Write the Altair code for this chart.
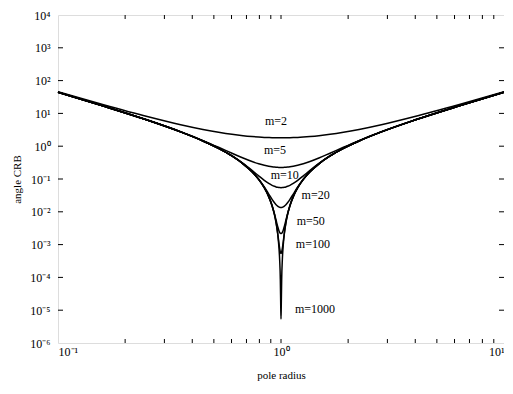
import altair as alt
import pandas as pd

# pole radius grid (log-symmetric around 1)
pole_radius = [0.1, 0.1585, 0.2512, 0.3548, 0.4467, 0.5248, 0.6026, 0.6761, 0.7413, 0.7943,
               0.8414, 0.8810, 0.9120, 0.9333, 0.9506, 0.9661, 0.9772, 0.9863, 0.99312, 0.99770,
               1.0,
               1.00231, 1.00693, 1.01391, 1.02329, 1.03514, 1.05196, 1.07152, 1.09648, 1.13501,
               1.18850, 1.25893, 1.34896, 1.47911, 1.65959, 1.90546, 2.23872, 2.81838, 3.98107,
               6.30957, 10.0]

crb_m2 = [45.9, 18.8, 8.06, 4.53, 3.25, 2.66, 2.30, 2.09, 1.97, 1.90,
          1.854, 1.829, 1.815, 1.809, 1.805, 1.802, 1.801, 1.800, 1.800, 1.800,
          1.800,
          1.800, 1.800, 1.800, 1.801, 1.802, 1.805, 1.809, 1.815, 1.829,
          1.854, 1.90, 1.97, 2.09, 2.30, 2.66, 3.25, 4.53, 8.06, 18.8, 45.9]
crb_m5 = [44.1, 17.0, 6.26, 2.744, 1.483, 0.928, 0.612, 0.436, 0.341, 0.291,
          0.2612, 0.2441, 0.2350, 0.2306, 0.2280, 0.2264, 0.2256, 0.2252, 0.2250, 0.2250,
          0.2250,
          0.2250, 0.2250, 0.2252, 0.2256, 0.2264, 0.2280, 0.2306, 0.2350, 0.2441,
          0.2612, 0.291, 0.341, 0.436, 0.612, 0.928, 1.483, 2.744, 6.26, 17.0, 44.1]
crb_m10 = [44.1, 17.0, 6.26, 2.73, 1.445, 0.858, 0.505, 0.298, 0.1832, 0.1246,
           0.0913, 0.0734, 0.0642, 0.0599, 0.0574, 0.0559, 0.0551, 0.0548, 0.0546, 0.0545,
           0.0545,
           0.0545, 0.0546, 0.0548, 0.0551, 0.0559, 0.0574, 0.0599, 0.0642, 0.0734,
           0.0913, 0.1246, 0.1832, 0.298, 0.505, 0.858, 1.445, 2.73, 6.26, 17.0, 44.1]
crb_m20 = [44.1, 17.0, 6.26, 2.73, 1.445, 0.858, 0.503, 0.290, 0.1663, 0.0980,
           0.0570, 0.0348, 0.0239, 0.0191, 0.01644, 0.01486, 0.01411, 0.01374, 0.01359, 0.01354,
           0.01353,
           0.01354, 0.01359, 0.01374, 0.01411, 0.01486, 0.01644, 0.0191, 0.0239, 0.0348,
           0.0570, 0.0980, 0.1663, 0.290, 0.503, 0.858, 1.445, 2.73, 6.26, 17.0, 44.1]
crb_m50 = [44.1, 17.0, 6.26, 2.73, 1.445, 0.858, 0.503, 0.290, 0.166, 0.0971,
           0.0542, 0.0290, 0.01544, 0.00904, 0.00553, 0.00359, 0.00276, 0.00237, 0.00221, 0.002167,
           0.002161,
           0.002167, 0.00221, 0.00237, 0.00276, 0.00359, 0.00553, 0.00904, 0.01544, 0.0290,
           0.0542, 0.0971, 0.166, 0.290, 0.503, 0.858, 1.445, 2.73, 6.26, 17.0, 44.1]
crb_m100 = [44.1, 17.0, 6.26, 2.73, 1.445, 0.858, 0.503, 0.290, 0.166, 0.0971,
            0.0542, 0.0290, 0.01531, 0.00860, 0.00464, 0.00226, 0.001218, 7.62e-4, 5.92e-4, 5.46e-4,
            5.40e-4,
            5.46e-4, 5.92e-4, 7.62e-4, 0.001218, 0.00226, 0.00464, 0.00860, 0.01531, 0.0290,
            0.0542, 0.0971, 0.166, 0.290, 0.503, 0.858, 1.445, 2.73, 6.26, 17.0, 44.1]
crb_m1000 = [44.1, 17.0, 6.26, 2.73, 1.445, 0.858, 0.503, 0.290, 0.166, 0.0971,
             0.0542, 0.0290, 0.01531, 0.00860, 0.00462, 0.00215, 9.54e-4, 3.44e-4, 8.59e-5, 1.218e-5,
             5.40e-6,
             1.218e-5, 8.59e-5, 3.44e-4, 9.54e-4, 0.00215, 0.00462, 0.00860, 0.01531, 0.0290,
             0.0542, 0.0971, 0.166, 0.290, 0.503, 0.858, 1.445, 2.73, 6.26, 17.0, 44.1]

series = {"m=2": crb_m2, "m=5": crb_m5, "m=10": crb_m10, "m=20": crb_m20,
          "m=50": crb_m50, "m=100": crb_m100, "m=1000": crb_m1000}

# curve labels
label_text = ["m=2", "m=5", "m=10", "m=20", "m=50", "m=100", "m=1000"]
label_r = [0.95, 0.94, 1.04, 1.43, 1.36, 1.39, 1.42]
label_crb = [6.0, 0.79, 0.137, 0.0315, 0.0051, 0.00102, 1.08e-5]

# axis ticks
y_tick_values = [1e-6, 1e-5, 1e-4, 1e-3, 1e-2, 1e-1, 1, 10, 100, 1000, 10000]
y_tick_labels = ["10⁻⁶", "10⁻⁵", "10⁻⁴", "10⁻³", "10⁻²", "10⁻¹", "10⁰", "10¹", "10²", "10³", "10⁴"]
x_tick_values = [0.1, 1, 10]
x_tick_labels = ["10⁻¹", "10⁰", "10¹"]
x_minor_ticks = [0.2, 0.3, 0.4, 0.5, 0.6, 0.7, 0.8, 0.9, 1, 2, 3, 4, 5, 6, 7, 8, 9]

rows = []
for name, vals in series.items():
    for r, v in zip(pole_radius, vals):
        rows.append({"m": name, "r": r, "crb": v})
df = pd.DataFrame(rows)
df_lab = pd.DataFrame({"label": label_text, "r": label_r, "crb": label_crb})
df_yt = pd.DataFrame({"crb": y_tick_values[1:-1]})
df_xt = pd.DataFrame({"r": x_minor_ticks})

W, H = 446, 328
FONT = "Liberation Serif"

xscale = alt.Scale(type="log", domain=[0.1, 10], nice=False)
yscale = alt.Scale(type="log", domain=[1e-6, 1e4], nice=False)

ylab_expr = "[" + ",".join("'%s'" % s for s in y_tick_labels) + "][round(log(datum.value)/LN10)+6]"
xlab_expr = "[" + ",".join("'%s'" % s for s in x_tick_labels) + "][round(log(datum.value)/LN10)+1]"

xaxis = alt.Axis(values=x_tick_values, labelExpr=xlab_expr, title="pole radius",
                 ticks=False, domain=False, grid=False, labelFont=FONT, labelFontSize=12,
                 labelColor="black", labelPadding=3, titleFont=FONT, titleFontSize=11,
                 titleFontWeight="normal", titleColor="black", titlePadding=12)
yaxis = alt.Axis(values=y_tick_values, labelExpr=ylab_expr, title="angle CRB",
                 ticks=False, domain=False, grid=False, labelFont=FONT, labelFontSize=12,
                 labelColor="black", labelPadding=8, titleFont=FONT, titleFontSize=11,
                 titleFontWeight="normal", titleColor="black", titlePadding=7)

X = alt.X("r:Q", scale=xscale, axis=xaxis)
Y = alt.Y("crb:Q", scale=yscale, axis=yaxis)

lines = alt.Chart(df).mark_line(color="black", strokeWidth=1.5, interpolate="monotone").encode(
    x=X, y=Y, detail="m:N")

labels = alt.Chart(df_lab).mark_text(font=FONT, fontSize=12, color="black", align="center",
                                     baseline="middle").encode(x=X, y=Y, text="label:N")

left_ticks = alt.Chart(df_yt).mark_rule(color="black", strokeWidth=1).encode(
    y=Y, x=alt.value(0), x2=alt.value(5))
right_ticks = alt.Chart(df_yt).mark_rule(color="black", strokeWidth=1).encode(
    y=Y, x=alt.value(W - 5), x2=alt.value(W))
bottom_ticks = alt.Chart(df_xt).mark_rule(color="black", strokeWidth=1).encode(
    x=X, y=alt.value(H), y2=alt.value(H - 4))
top_ticks = alt.Chart(df_xt).mark_rule(color="black", strokeWidth=1).encode(
    x=X, y=alt.value(0), y2=alt.value(4))

chart = alt.layer(lines, labels, left_ticks, right_ticks, bottom_ticks, top_ticks).properties(
    width=W, height=H, autosize="none",
    padding={"left": 50, "top": 7, "right": 0, "bottom": 38},
).configure_view(stroke="black", strokeWidth=1.3).configure(background="white")

chart.save("out.html", embed_options={"renderer": "svg", "actions": False})
